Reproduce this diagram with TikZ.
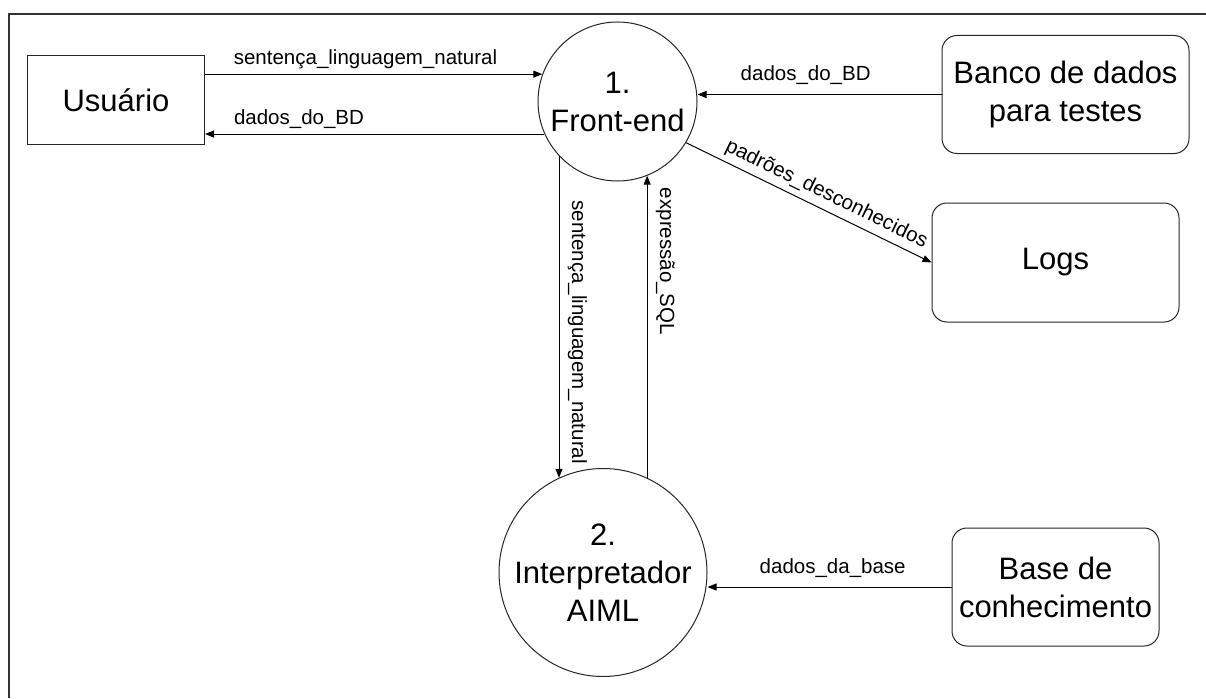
\documentclass[tikz,border=0pt]{standalone}
\usepackage{fontspec}
\setmainfont{Liberation Sans}
\usetikzlibrary{positioning, arrows.meta}

\tikzset{
  big/.style={font=\fontsize{31}{38}\selectfont, align=center},
  proc/.style={circle, draw=black!85, big, inner sep=0pt},
  ext/.style={rectangle, draw=black!85, big},
  store/.style={ext, rounded corners=15pt},
  lbl/.style={font=\fontsize{20.5}{24}\selectfont, inner sep=0pt}
}

\begin{document}
\begin{tikzpicture}[->,>={Triangle[length=9pt,width=7pt]},x=1pt,y=-1pt,
		line width=1pt]

  \useasboundingbox (0,0) rectangle (1206,698);
  \draw[-, line width=1.5pt, black!80] (9,698) -- (9,14) -- (1206,14);

  \node[ext, minimum width=177pt, minimum height=88pt] (usuario) at (116,100) {Usuário};
  \node[proc, minimum size=159pt] (front) at (617.5,101.5) {1.\\Front-end};
  \node[proc, minimum size=208pt] (interp) at (603,572.5) {2.\\Interpretador\\AIML};
  \node[store, minimum width=247pt, minimum height=118pt] (banco) at (1065.5,94.5) {Banco de dados\\para testes};
  \node[store, minimum width=247pt, minimum height=119pt] (logs) at (1055.5,262.5) {Logs};
  \node[store, minimum width=207pt, minimum height=118pt] (base) at (1055.5,587) {Base de\\conhecimento};

  \path (usuario.east |- front.160) edge node[lbl, pos=.084, anchor=base west, yshift=10pt] {sentença\_linguagem\_natural} (front.160)
		(front.204) edge node[lbl, pos=.916, anchor=base west, yshift=10pt] {dados\_do\_BD} (usuario.east |- front.204)
		(banco.west) edge node[lbl, pos=.825, anchor=base west, yshift=13.5pt] {dados\_do\_BD} (front.east |- banco.west)
		(front.-31) edge node[lbl, pos=.545, sloped, above, inner sep=5pt] {padrões\_desconhecidos} (logs.west)
		(front.223) edge node[lbl, pos=.137, xshift=13pt, rotate=-90, anchor=base west] {sentença\_linguagem\_natural} (front.223 |- interp.115)
		(interp.65) edge node[lbl, pos=.961, xshift=13pt, rotate=-90, anchor=base west] {expressão\_SQL} (interp.65 |- front.292)
		(base.west) edge node[lbl, pos=.788, anchor=base west, yshift=14pt] {dados\_da\_base} (interp.east |- base.west);

\end{tikzpicture}
\end{document}
